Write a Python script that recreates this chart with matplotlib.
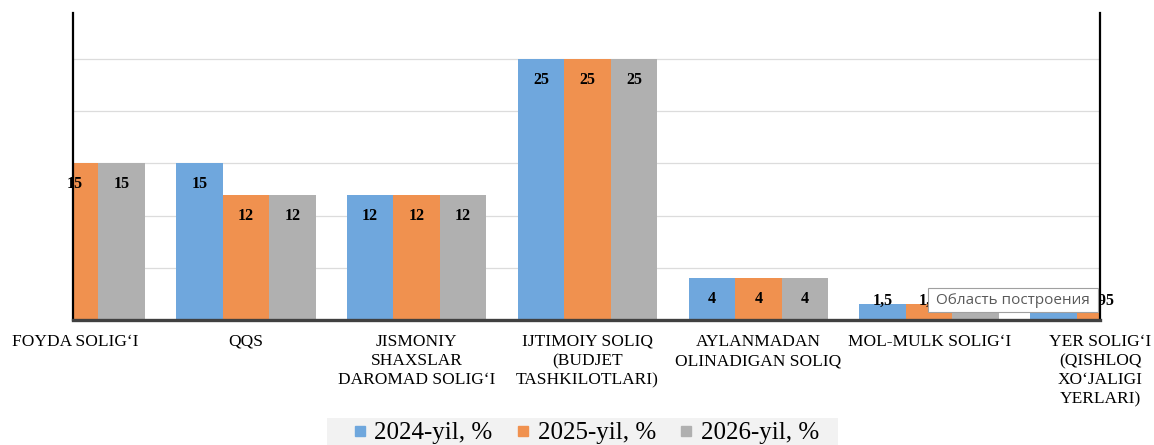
import numpy as np
import matplotlib
matplotlib.use("Agg")
import matplotlib.pyplot as plt
from matplotlib.lines import Line2D
from matplotlib.patches import Rectangle
import matplotlib.transforms as mtransforms

plt.rcParams["font.family"] = ["Liberation Serif", "DejaVu Serif"]

categories = [
    "FOYDA SOLIG\u2018I",
    "QQS",
    "JISMONIY\nSHAXSLAR\nDAROMAD SOLIG\u2018I",
    "IJTIMOIY SOLIQ\n(BUDJET\nTASHKILOTLARI)",
    "AYLANMADAN\nOLINADIGAN SOLIQ",
    "MOL-MULK SOLIG\u2018I",
    "YER SOLIG\u2018I\n(QISHLOQ\nXO\u2018JALIGI\nYERLARI)",
]
series_names = ["2024-yil, %", "2025-yil, %", "2026-yil, %"]
y2024 = [15, 15, 12, 25, 4, 1.5, 0.95]
y2025 = [15, 12, 12, 25, 4, 1.5, 0.95]
y2026 = [15, 12, 12, 25, 4, 1.5, 0.95]
colors = ["#6FA7DD", "#F0914F", "#B0B0B0"]

fig = plt.figure(figsize=(11.54, 4.45), dpi=100)
ax = fig.add_axes([73 / 1154, 125 / 445, (1100 - 73) / 1154, 307 / 445])

x = np.arange(len(categories))
w = 0.272
xmin, xmax = -0.012, 6.0
ax.set_xlim(xmin, xmax)
ax.set_ylim(0, 29.4)

for i, (vals, col) in enumerate(zip([y2024, y2025, y2026], colors)):
    pos = x + (i - 1) * w
    ax.bar(pos, vals, width=w, color=col, zorder=2)
    for p, v in zip(pos, vals):
        # labels only where the bar centre is inside the plot area
        if xmin - 0.01 <= p <= xmax + 0.01:
            txt = ("%g" % v).replace(".", ",")
            ax.text(p, max(v - 2, 1.8), txt, ha="center", va="center",
                    fontsize=11.5, fontweight="bold", color="black",
                    zorder=4, clip_on=False)

ax.set_yticks([5, 10, 15, 20, 25])
ax.yaxis.grid(True, color="#DCDCDC", linewidth=0.9, zorder=0)
ax.set_axisbelow(True)
ax.tick_params(left=False, bottom=False, labelleft=False, labelbottom=False)
ax.set_xticks([])

ax.spines["top"].set_visible(False)
ax.spines["left"].set_color("black")
ax.spines["left"].set_linewidth(1.6)
ax.spines["right"].set_color("black")
ax.spines["right"].set_linewidth(1.6)
ax.spines["bottom"].set_color("#404040")
ax.spines["bottom"].set_linewidth(2.4)
ax.spines["bottom"].set_zorder(3)

trans = mtransforms.blended_transform_factory(ax.transData, ax.transAxes)
for xi, lab in zip(x, categories):
    ax.text(xi, -0.045, lab, transform=trans, ha="center", va="top",
            fontsize=12.5, linespacing=1.27, clip_on=False)

# legend with light gray background band
fig.patches.append(Rectangle((327 / 1154, 0), (838 - 327) / 1154, 27 / 445,
                             transform=fig.transFigure, facecolor="#F2F2F2",
                             edgecolor="none", zorder=0.5))
handles = [Line2D([], [], marker="s", linestyle="none", markersize=7,
                  markerfacecolor=c, markeredgecolor=c) for c in colors]
fig.legend(handles, series_names, loc="center", ncol=3,
           bbox_to_anchor=(586 / 1154, 12 / 445), frameon=False,
           fontsize=18, handlelength=0.55, handletextpad=0.3,
           columnspacing=0.95, borderaxespad=0)

# tooltip overlay as in the screenshot
fig.patches.append(Rectangle((928 / 1154, (445 - 312) / 445), 170 / 1154, 24 / 445,
                             transform=fig.transFigure, facecolor="white",
                             edgecolor="#A0A0A0", linewidth=0.8, zorder=5))
fig.text(1013 / 1154, (445 - 300) / 445, "Область построения",
         ha="center", va="center", fontsize=11, color="#5A5A5A",
         family=["Open Sans", "DejaVu Sans"], zorder=6)

fig.savefig("out.png", dpi=100)
